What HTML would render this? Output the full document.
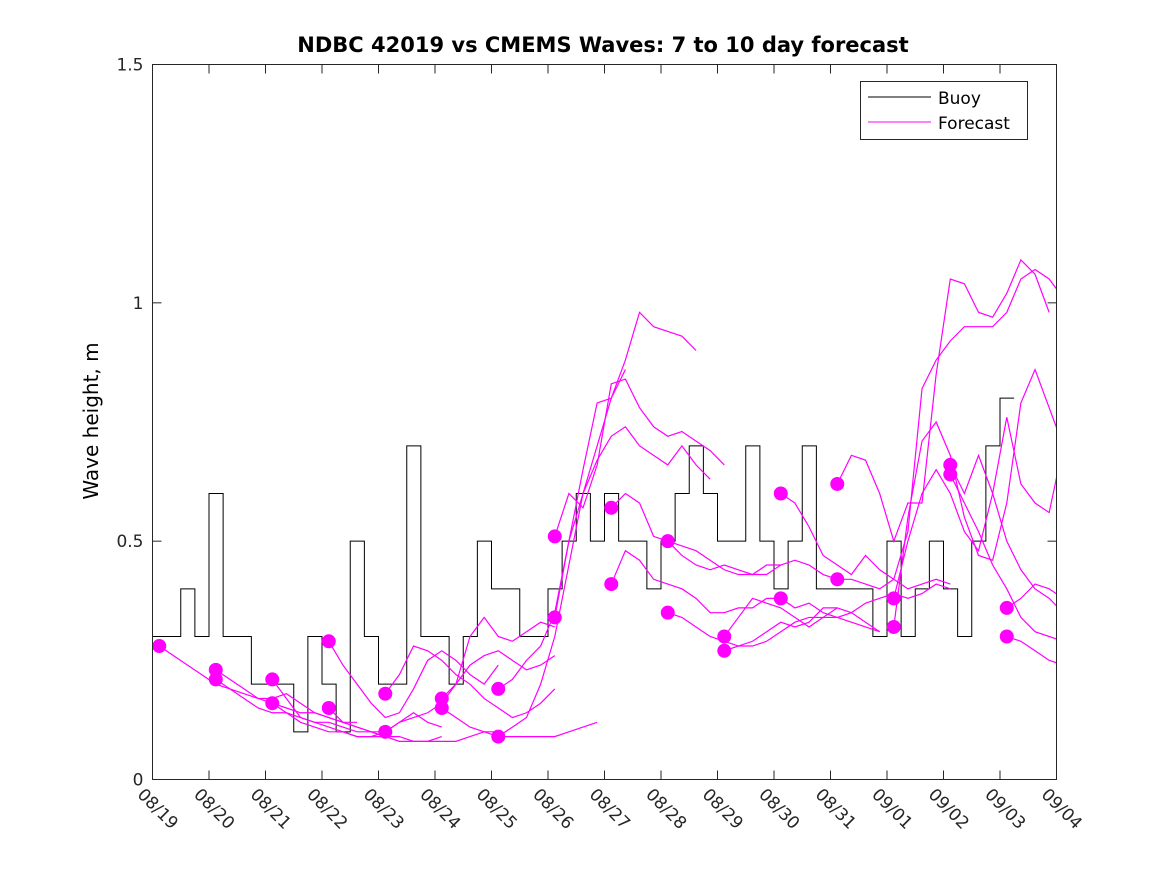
<!DOCTYPE html>
<html><head><meta charset="utf-8"><style>
body{margin:0;background:#fff;}
svg{display:block;font-family:"DejaVu Sans","Liberation Sans",sans-serif;}
</style></head><body>
<svg id="chart" width="1167" height="875" viewBox="0 0 1167 875" xmlns="http://www.w3.org/2000/svg">
<defs><clipPath id="plotclip"><rect x="152.5" y="64.5" width="904" height="715"/></clipPath></defs>
<rect width="1167" height="875" fill="#fff"/>
<text x="603" y="52" text-anchor="middle" font-size="21" font-weight="bold">NDBC 42019 vs CMEMS Waves: 7 to 10 day forecast</text>
<text transform="translate(98,421) rotate(-90)" text-anchor="middle" font-size="20">Wave height, m</text>
<g id="grid"></g>
<g id="series" clip-path="url(#plotclip)"></g>
<rect x="152.5" y="64.5" width="904" height="715" fill="none" stroke="#262626" stroke-width="1"/>
<g>
<rect x="860.5" y="81.5" width="167" height="58" fill="#fff" stroke="#262626"/>
<line x1="868" y1="97" x2="931" y2="97" stroke="#000"/>
<text x="938" y="104" font-size="17">Buoy</text>
<line x1="868" y1="122" x2="931" y2="122" stroke="#f0f"/>
<text x="938" y="129" font-size="17">Forecast</text>
</g>
</svg>
<script>
const xTickLabels=["08/19","08/20","08/21","08/22","08/23","08/24","08/25","08/26","08/27","08/28","08/29","08/30","08/31","09/01","09/02","09/03","09/04"];
const yTicks=[0,0.5,1,1.5];
const yTickLabels=["0","0.5","1","1.5"];
// buoy values every 0.25 day starting 08/19
const buoyStep=0.25;
const buoyValues=[0.3,0.3,0.4,0.3,0.6,0.3,0.3,0.2,0.2,0.2,0.1,0.3,0.2,0.1,0.5,0.3,0.2,0.2,0.7,0.3,0.3,0.2,0.3,0.5,0.4,0.4,0.3,0.3,0.4,0.5,0.6,0.5,0.6,0.5,0.5,0.4,0.5,0.6,0.7,0.6,0.5,0.5,0.7,0.5,0.4,0.5,0.7,0.4,0.4,0.4,0.4,0.3,0.5,0.3,0.4,0.5,0.4,0.3,0.5,0.7,0.8];
// forecasts: start day (from 08/19) and values every 0.25 day
const fcStep=0.25;
const fcStarts=[0.12,1.12,1.12,2.12,2.12,3.12,3.12,4.12,4.12,5.12,5.12,6.12,6.12,7.12,7.12,8.12,8.12,9.12,9.12,10.12,10.12,11.12,11.12,12.12,12.12,13.12,13.12,14.12,14.12,15.12,15.12];
const fcValues=[
[0.28,0.26,0.24,0.22,0.2,0.19,0.18,0.17,0.16,0.15,0.14,0.14,0.13,0.12,0.12],
[0.23,0.21,0.19,0.17,0.17,0.18,0.16,0.14,0.13,0.12,0.11,0.1,0.1],
[0.21,0.19,0.17,0.15,0.14,0.14,0.13,0.12,0.12,0.11,0.1,0.1,0.09],
[0.21,0.17,0.13,0.12,0.11,0.1,0.09,0.09,0.1,0.12,0.14,0.12,0.11],
[0.16,0.14,0.12,0.11,0.1,0.1,0.09,0.09,0.09,0.08,0.08,0.08,0.09],
[0.29,0.24,0.2,0.16,0.13,0.14,0.19,0.25,0.27,0.25,0.22,0.2,0.24],
[0.15,0.12,0.11,0.1,0.09,0.09,0.08,0.08,0.08,0.08,0.09,0.1,0.1],
[0.18,0.22,0.28,0.27,0.25,0.22,0.2,0.17,0.15,0.13,0.14,0.16,0.19],
[0.1,0.12,0.13,0.14,0.16,0.2,0.24,0.26,0.27,0.25,0.23,0.24,0.26],
[0.17,0.2,0.3,0.34,0.3,0.29,0.31,0.33,0.32],
[0.15,0.13,0.11,0.1,0.09,0.09,0.09,0.09,0.09,0.1,0.11,0.12],
[0.19,0.21,0.25,0.28,0.35,0.5,0.65,0.79,0.8,0.88,0.98,0.95,0.94,0.93,0.9],
[0.09,0.11,0.13,0.2,0.3,0.45,0.6,0.7,0.8,0.86],
[0.51,0.6,0.57,0.66,0.83,0.84,0.78,0.74,0.72,0.73,0.71,0.69,0.66],
[0.34,0.5,0.6,0.67,0.72,0.74,0.7,0.68,0.66,0.7,0.66,0.63],
[0.57,0.6,0.58,0.51,0.5,0.47,0.45,0.44,0.45,0.44,0.43,0.45,0.45],
[0.41,0.48,0.46,0.42,0.41,0.4,0.38,0.35,0.35,0.36,0.36,0.38,0.38],
[0.5,0.49,0.48,0.46,0.44,0.43,0.43,0.43,0.45,0.46,0.45,0.43,0.42],
[0.35,0.34,0.32,0.3,0.29,0.28,0.29,0.31,0.33,0.32,0.33,0.36,0.36],
[0.3,0.34,0.38,0.37,0.36,0.34,0.32,0.34,0.36,0.35,0.33,0.31],
[0.27,0.28,0.28,0.29,0.31,0.33,0.34,0.34,0.34,0.33,0.32,0.31],
[0.6,0.58,0.53,0.47,0.45,0.43,0.47,0.44,0.42,0.4,0.41,0.42,0.41],
[0.38,0.36,0.37,0.35,0.34,0.35,0.37,0.38,0.39,0.38,0.39,0.41,0.4],
[0.62,0.68,0.67,0.6,0.5,0.58,0.58,0.85,1.05,1.04,0.98,0.97,1.02,1.09,1.06,0.98],
[0.42,0.42,0.41,0.4,0.42,0.52,0.82,0.88,0.92,0.95,0.95,0.95,0.98,1.05,1.07,1.05,1.01,0.97,0.98,1.0,1.0],
[0.38,0.5,0.6,0.65,0.6,0.52,0.48,0.6,0.76,0.62,0.58,0.56,0.7,0.75,0.7,0.64,0.6,0.62,0.67],
[0.32,0.55,0.71,0.75,0.68,0.55,0.47,0.46,0.58,0.79,0.86,0.78,0.7,0.68,0.72,0.76,0.7,0.62,0.61,0.67],
[0.66,0.6,0.68,0.6,0.5,0.44,0.4,0.38,0.35,0.31,0.3,0.28,0.26,0.25,0.24,0.23],
[0.64,0.58,0.52,0.45,0.4,0.34,0.31,0.3,0.29,0.27,0.26,0.24,0.22,0.21],
[0.36,0.38,0.41,0.4,0.38,0.38,0.4,0.43],
[0.3,0.29,0.27,0.25,0.24,0.23,0.22,0.21]
];
const X0=152.5,X1=1056.5,Y0=779.5,Y1=64.5,DAYS=16,YMAX=1.5;
function xs(d){return X0+(X1-X0)*d/DAYS;}
function ys(v){return Y0-(Y0-Y1)*v/YMAX;}
const NS="http://www.w3.org/2000/svg";
const grid=document.getElementById('grid'),ser=document.getElementById('series');
function mk(tag,attrs,parent){const e=document.createElementNS(NS,tag);for(const k in attrs)e.setAttribute(k,attrs[k]);parent.appendChild(e);return e;}
xTickLabels.forEach((lab,i)=>{
  const x=xs(i);
  const t1=mk('line',{x1:x,y1:Y0,x2:x,y2:Y0-9,stroke:'#262626'},grid);
  
  
  const t2=mk('line',{x1:x,y1:Y1,x2:x,y2:Y1+9,stroke:'#262626'},grid);
  
  
  const tx=mk('text',{transform:`translate(${x-16},${Y0+16}) rotate(45)`,'font-size':'17',fill:'#262626'},grid);
  tx.textContent=lab;
  
  
});
yTicks.forEach((v,i)=>{
  const y=ys(v);
  const t1=mk('line',{x1:X0,y1:y,x2:X0+9,y2:y,stroke:'#262626'},grid);
  
  
  const t2=mk('line',{x1:X1,y1:y,x2:X1-9,y2:y,stroke:'#262626'},grid);
  
  
  const tx=mk('text',{x:X0-9,y:y+6,'text-anchor':'end','font-size':'17',fill:'#262626'},grid);
  tx.textContent=yTickLabels[i];
  
  
});
let d='';
buoyValues.forEach((v,i)=>{const x1=xs(i*buoyStep),x2=xs((i+1)*buoyStep),y=ys(v);d+=(i===0?'M':'L')+x1+' '+y+'L'+x2+' '+y;});
const bp=mk('path',{d:d,fill:'none',stroke:'#000','stroke-width':1},ser);


fcValues.forEach((vals,k)=>{
  const s=fcStarts[k];
  const pts=vals.map((v,j)=>xs(s+j*fcStep)+','+ys(v)).join(' ');
  const pl=mk('polyline',{points:pts,fill:'none',stroke:'#f0f','stroke-width':1.2},ser);
  
  
});
fcValues.forEach((vals,k)=>{
  const c=mk('circle',{cx:xs(fcStarts[k]),cy:ys(vals[0]),r:7,fill:'#f0f'},ser);
  
  
});
</script>
</body></html>
